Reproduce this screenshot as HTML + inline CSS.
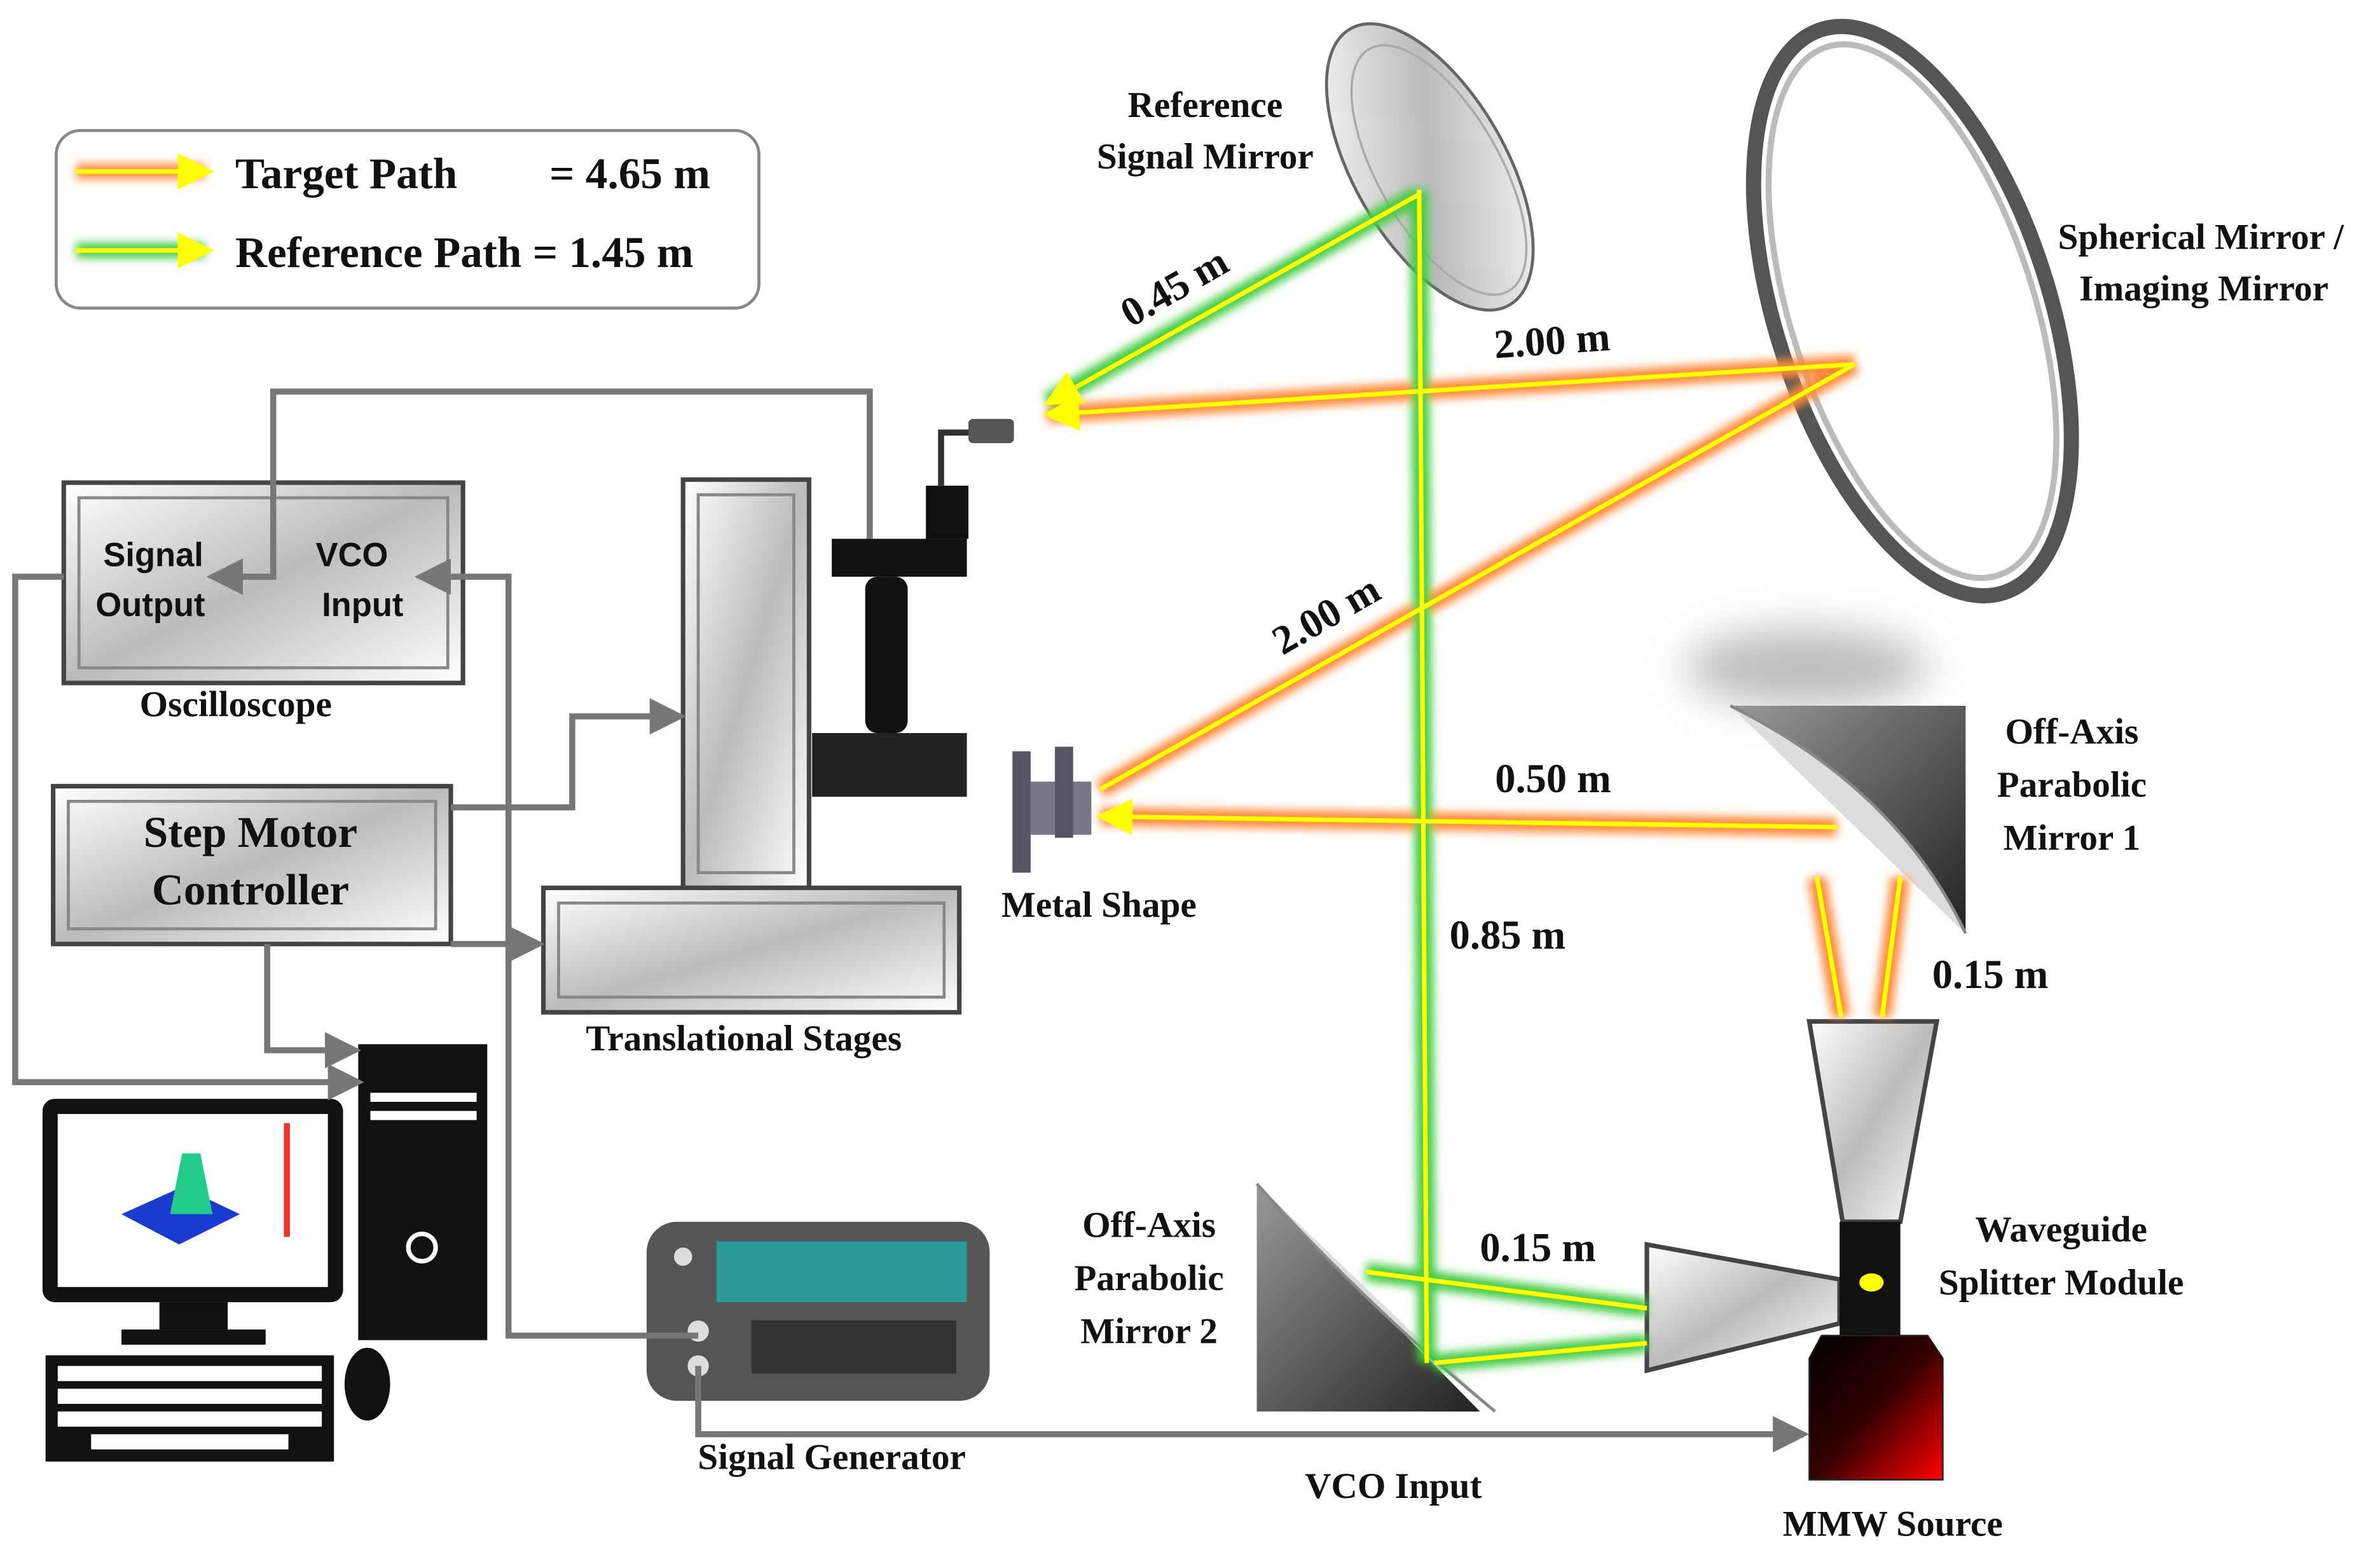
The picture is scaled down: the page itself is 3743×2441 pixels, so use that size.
<!DOCTYPE html>
<html><head><meta charset="utf-8"><style>
html,body{margin:0;padding:0;background:#fff}
svg{display:block}
.t{font-family:"Liberation Serif",serif;font-weight:bold;fill:#111}
.s{font-family:"Liberation Sans",sans-serif;font-weight:bold;fill:#111}
</style></head><body>
<svg width="3743" height="2441" viewBox="0 0 1568 1022.6" xmlns="http://www.w3.org/2000/svg">
<defs>
<filter id="go" filterUnits="userSpaceOnUse" x="0" y="0" width="1568" height="1023"><feGaussianBlur stdDeviation="3"/></filter>
<filter id="gs" filterUnits="userSpaceOnUse" x="0" y="0" width="1568" height="1023"><feGaussianBlur stdDeviation="14"/></filter>
<linearGradient id="gm" x1="0" y1="0" x2="1" y2="1"><stop offset="0" stop-color="#fff"/><stop offset="0.5" stop-color="#bbb"/><stop offset="1" stop-color="#fff"/></linearGradient>
<linearGradient id="gb" x1="0" y1="0" x2="1" y2="1"><stop offset="0" stop-color="#999"/><stop offset="1" stop-color="#222"/></linearGradient>
<linearGradient id="gr" x1="0" y1="0" x2="1" y2="1"><stop offset="0" stop-color="#000"/><stop offset="0.5" stop-color="#300"/><stop offset="1" stop-color="#f00"/></linearGradient>
<marker id="ay" markerWidth="8" markerHeight="8" refX="6" refY="4" orient="auto"><path d="M0,0 L8,4 L0,8 z" fill="#ff0"/></marker>
<marker id="ag" markerWidth="6" markerHeight="6" refX="5" refY="3" orient="auto"><path d="M0,0 L6,3 L0,6 z" fill="#777"/></marker>
</defs>
<!-- legend -->
<rect x="37" y="86" width="463" height="117" rx="16" fill="#fff" stroke="#888" stroke-width="2"/>
<line x1="50" y1="113" x2="135" y2="113" stroke="#ff8a3a" stroke-width="10" filter="url(#go)"/>
<line x1="50" y1="113" x2="135" y2="113" stroke="#ff0" stroke-width="3" marker-end="url(#ay)"/>
<line x1="50" y1="165" x2="135" y2="165" stroke="#4c4" stroke-width="10" filter="url(#go)"/>
<line x1="50" y1="165" x2="135" y2="165" stroke="#ff0" stroke-width="3" marker-end="url(#ay)"/>
<text class="t" x="155" y="124" font-size="29">Target Path</text>
<text class="t" x="362" y="124" font-size="29">= 4.65 m</text>
<text class="t" x="155" y="176" font-size="29">Reference Path = 1.45 m</text>
<!-- mirrors -->
<ellipse cx="942" cy="110" rx="50" ry="105" transform="rotate(-30 942 110)" fill="url(#gm)" stroke="#666" stroke-width="2"/>
<ellipse cx="948" cy="112" rx="40" ry="92" transform="rotate(-30 948 112)" fill="none" stroke="#aaa" stroke-width="1.5"/>
<ellipse cx="1260" cy="205" rx="90" ry="195" transform="rotate(-18 1260 205)" fill="#fff" stroke="#555" stroke-width="10"/>
<ellipse cx="1260" cy="205" rx="80" ry="183" transform="rotate(-18 1260 205)" fill="none" stroke="#bbb" stroke-width="4"/>
<ellipse cx="1190" cy="440" rx="80" ry="25" fill="#bbb" filter="url(#gs)"/>
<polygon points="1140,465 1295,465 1295,615" fill="url(#gb)"/>
<path d="M1140,465 Q1250,520 1295,615" fill="#ddd" stroke="#888" stroke-width="2"/>
<polygon points="828,780 828,930 975,930" fill="url(#gb)"/>
<path d="M828,780 Q900,860 985,930" fill="#ddd" stroke="#888" stroke-width="2"/>
<!-- horns -->
<polygon points="1192,673 1276,673 1252,805 1214,805" fill="url(#gm)" stroke="#444" stroke-width="3"/>
<polygon points="1085,820 1085,903 1212,872 1212,843" fill="url(#gm)" stroke="#444" stroke-width="3"/>
<rect x="1212" y="805" width="40" height="75" fill="#111"/>
<ellipse cx="1233" cy="845" rx="8" ry="6" fill="#ff0"/>
<polygon points="1200,880 1270,880 1280,895 1280,975 1192,975 1192,895" fill="url(#gr)" stroke="#222"/>
<!-- beams glow -->
<g stroke-width="12" fill="none" filter="url(#go)">
<g stroke="#ff8a3a">
<line x1="1213" y1="670" x2="1197" y2="578"/><line x1="1240" y1="670" x2="1252" y2="578"/>
<line x1="1210" y1="545" x2="725" y2="538"/><line x1="725" y1="520" x2="1222" y2="240"/>
<line x1="1222" y1="240" x2="690" y2="273"/></g>
<g stroke="#4c4">
<line x1="1085" y1="862" x2="900" y2="838"/><line x1="1085" y1="885" x2="945" y2="898"/>
<line x1="940" y1="898" x2="935" y2="125"/><line x1="935" y1="128" x2="690" y2="265"/></g>
</g>
<g stroke="#ff0" stroke-width="3" fill="none">
<line x1="1213" y1="670" x2="1197" y2="578"/><line x1="1240" y1="670" x2="1252" y2="578"/>
<line x1="1210" y1="545" x2="728" y2="538" marker-end="url(#ay)"/><line x1="725" y1="520" x2="1222" y2="240"/>
<line x1="1222" y1="240" x2="693" y2="273" marker-end="url(#ay)"/>
<line x1="1085" y1="862" x2="900" y2="838"/><line x1="1085" y1="885" x2="945" y2="898"/>
<line x1="940" y1="898" x2="935" y2="125"/><line x1="935" y1="128" x2="693" y2="264" marker-end="url(#ay)"/>
</g>
<!-- metal shape -->
<rect x="667" y="495" width="12" height="80" fill="#556"/><rect x="679" y="515" width="40" height="35" fill="#778"/><rect x="695" y="492" width="12" height="60" fill="#556"/>
<!-- stages -->
<rect x="450" y="316" width="83" height="269" fill="url(#gm)" stroke="#444" stroke-width="3"/>
<rect x="460" y="326" width="63" height="249" fill="none" stroke="#888" stroke-width="2"/>
<rect x="358" y="585" width="274" height="82" fill="url(#gm)" stroke="#444" stroke-width="3"/>
<rect x="368" y="595" width="254" height="62" fill="none" stroke="#888" stroke-width="2"/>
<rect x="535" y="483" width="102" height="42" fill="#222"/>
<rect x="570" y="380" width="28" height="103" fill="#111" rx="8"/>
<rect x="548" y="355" width="89" height="25" fill="#111"/>
<rect x="610" y="320" width="28" height="35" fill="#111"/>
<path d="M620,320 V285 H640" stroke="#333" stroke-width="4" fill="none"/>
<rect x="638" y="276" width="30" height="16" fill="#555" rx="3"/>
<!-- instrument boxes -->
<rect x="42" y="318" width="263" height="132" fill="url(#gm)" stroke="#444" stroke-width="3"/>
<rect x="52" y="328" width="243" height="112" fill="none" stroke="#888" stroke-width="2"/>
<rect x="35" y="518" width="262" height="104" fill="url(#gm)" stroke="#444" stroke-width="3"/>
<rect x="45" y="528" width="242" height="84" fill="none" stroke="#888" stroke-width="2"/>
<!-- computer -->
<rect x="236" y="688" width="85" height="195" fill="#111"/>
<rect x="244" y="720" width="70" height="6" fill="#fff"/><rect x="244" y="732" width="70" height="6" fill="#fff"/>
<circle cx="278" cy="822" r="9" fill="none" stroke="#fff" stroke-width="3"/>
<rect x="28" y="724" width="198" height="134" rx="8" fill="#111"/>
<rect x="38" y="734" width="178" height="114" fill="#fff"/>
<polygon points="80,800 120,782 158,800 118,820" fill="#1a3ad0"/>
<polygon points="112,800 120,760 132,760 140,800" fill="#2c8"/>
<rect x="187" y="740" width="4" height="75" fill="#e33"/>
<rect x="105" y="858" width="45" height="18" fill="#111"/><rect x="80" y="876" width="95" height="10" fill="#111"/>
<rect x="30" y="893" width="190" height="70" fill="#111"/>
<g fill="#fff">
<rect x="38" y="900" width="174" height="10"/><rect x="38" y="915" width="174" height="10"/><rect x="38" y="930" width="174" height="10"/><rect x="60" y="945" width="130" height="10"/>
</g>
<ellipse cx="242" cy="912" rx="15" ry="24" fill="#111"/>
<!-- signal generator -->
<rect x="426" y="805" width="226" height="118" rx="20" fill="#555"/>
<rect x="472" y="818" width="165" height="40" fill="#2a9a9a"/>
<rect x="495" y="870" width="135" height="35" fill="#333"/>
<circle cx="460" cy="877" r="7" fill="#ddd"/><circle cx="460" cy="900" r="7" fill="#ddd"/><circle cx="450" cy="828" r="6" fill="#ddd"/>
<!-- grey connectors -->
<g stroke="#777" stroke-width="4" fill="none">
<path d="M573,355 V258 H180 V380 H140" marker-end="url(#ag)"/>
<path d="M42,380 H10 V713 H236" marker-end="url(#ag)"/>
<path d="M460,880 H335 V380 H277" marker-end="url(#ag)"/>
<path d="M297,532 H377 V472 H448" marker-end="url(#ag)"/>
<path d="M297,622 H355" marker-end="url(#ag)"/>
<path d="M176,622 V692 H234" marker-end="url(#ag)"/>
<path d="M460,900 V945 H1188" marker-end="url(#ag)"/>
</g>
<!-- labels -->
<text class="s" x="68" y="373" font-size="22">Signal</text>
<text class="s" x="63" y="406" font-size="22">Output</text>
<text class="s" x="208" y="373" font-size="22">VCO</text>
<text class="s" x="212" y="406" font-size="22">Input</text>
<text class="t" x="92" y="472" font-size="24">Oscilloscope</text>
<text class="t" x="165" y="558" font-size="29" text-anchor="middle">Step Motor</text>
<text class="t" x="165" y="596" font-size="29" text-anchor="middle">Controller</text>
<text class="t" x="490" y="692" font-size="24" text-anchor="middle">Translational Stages</text>
<text class="t" x="724" y="604" font-size="24" text-anchor="middle">Metal Shape</text>
<text class="t" x="548" y="968" font-size="24" text-anchor="middle">Signal Generator</text>
<text class="t" x="918" y="987" font-size="24" text-anchor="middle">VCO Input</text>
<text class="t" x="1247" y="1012" font-size="24" text-anchor="middle">MMW Source</text>
<text class="t" x="794" y="77" font-size="24" text-anchor="middle">Reference</text>
<text class="t" x="794" y="111" font-size="24" text-anchor="middle">Signal Mirror</text>
<text class="t" x="1450" y="164" font-size="24" text-anchor="middle">Spherical Mirror /</text>
<text class="t" x="1452" y="198" font-size="24" text-anchor="middle">Imaging Mirror</text>
<text class="t" x="1365" y="490" font-size="24" text-anchor="middle">Off-Axis</text>
<text class="t" x="1365" y="525" font-size="24" text-anchor="middle">Parabolic</text>
<text class="t" x="1365" y="560" font-size="24" text-anchor="middle">Mirror 1</text>
<text class="t" x="757" y="815" font-size="24" text-anchor="middle">Off-Axis</text>
<text class="t" x="757" y="850" font-size="24" text-anchor="middle">Parabolic</text>
<text class="t" x="757" y="885" font-size="24" text-anchor="middle">Mirror 2</text>
<text class="t" x="1358" y="818" font-size="24" text-anchor="middle">Waveguide</text>
<text class="t" x="1358" y="853" font-size="24" text-anchor="middle">Splitter Module</text>
<text class="t" x="985" y="236" font-size="27" transform="rotate(-4 985 236)">2.00 m</text>
<text class="t" x="845" y="432" font-size="27" transform="rotate(-30 845 432)">2.00 m</text>
<text class="t" x="745" y="216" font-size="27" transform="rotate(-30 745 216)">0.45 m</text>
<text class="t" x="985" y="522" font-size="27">0.50 m</text>
<text class="t" x="955" y="625" font-size="27">0.85 m</text>
<text class="t" x="1273" y="651" font-size="27">0.15 m</text>
<text class="t" x="975" y="831" font-size="27">0.15 m</text>
</svg>
</body></html>
